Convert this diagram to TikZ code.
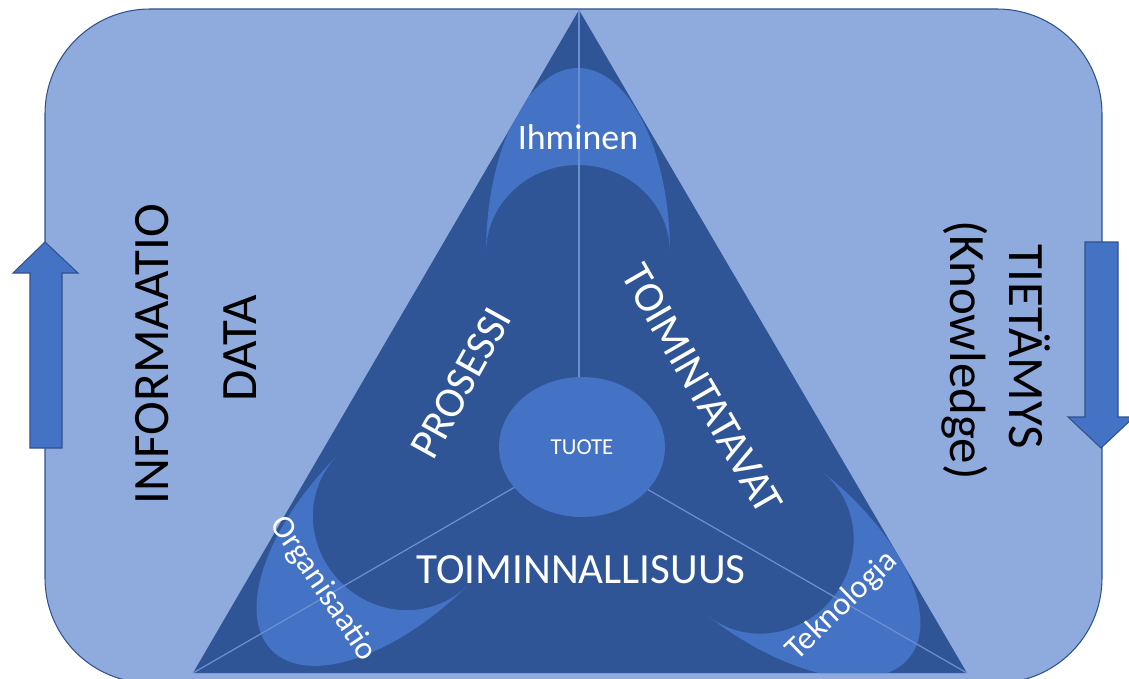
\documentclass[tikz,border=0pt]{standalone}
\usepackage{fontspec}
\setmainfont{Carlito}
\usepackage{tikz}
\usetikzlibrary{shapes.geometric}

\definecolor{paleblue}{HTML}{8FAADC}
\definecolor{deepblue}{HTML}{2F5597}
\definecolor{midblue}{HTML}{4472C4}
\definecolor{rimblue}{HTML}{2F528F}
\definecolor{spokeblue}{HTML}{6B8FD2}

% one crescent: tips midpoint, rotation
\newcommand{\halfmoon}[3]{%
  \begin{scope}[shift={(#1,#2)},rotate=#3]
    \fill[midblue] (-92,0) .. controls (-92,-102) and (-51,-185) .. (0,-185)
      .. controls (51,-185) and (92,-102) .. (92,0)
      .. controls (92,-49) and (51,-88) .. (0,-88)
      .. controls (-51,-88) and (-92,-49) .. (-92,0) -- cycle;
  \end{scope}}

\begin{document}
\begin{tikzpicture}[x=0.02cm,y=-0.02cm,
    outertext/.style={text=black,inner sep=0pt,font=\fontsize{29}{35}\selectfont},
    innertext/.style={text=white,inner sep=0pt,font=\fontsize{24.5}{29}\selectfont},
    smalltext/.style={text=white,inner sep=0pt,font=\fontsize{18.5}{22}\selectfont},
    bigarrow/.style={fill=midblue,draw=rimblue,line width=0.6pt},
    spoke/.style={draw=spokeblue,line width=0.7pt}]
  \clip (0,0) rectangle (1129,679);

  % background and arrows
  \draw[fill=paleblue,draw=rimblue,line width=0.6pt,rounded corners=2.1cm] (45,9) rectangle (1102,683);
  \draw[bigarrow] (30,448) -- (30,273) -- (13,273) -- (45,242) -- (78,273) -- (62,273) -- (62,448) -- cycle;
  \draw[bigarrow] (1085,242) -- (1085,417) -- (1068,417) -- (1101,448) -- (1134,417) -- (1118,417) -- (1118,242) -- cycle;

  % triangle
  \coordinate (top) at (579,10);
  \coordinate (left) at (193,673);
  \coordinate (right) at (967,673);
  \coordinate (mid) at (579,450);
  \fill[deepblue] (top) -- (left) -- (right) -- cycle;
  \begin{scope}
    \clip (top) -- (left) -- (right) -- cycle;
    \halfmoon{578}{253}{0}
    \halfmoon{403}{520}{134.8}
    \halfmoon{764}{543}{-128}
  \end{scope}
  \draw[spoke] (mid) -- (top);
  \draw[spoke] (mid) -- (left);
  \draw[spoke] (mid) -- (right);

  \node[ellipse,fill=midblue,minimum width=3.32cm,minimum height=2.8cm,inner sep=0pt,
        text=white,font=\fontsize{13}{16}\selectfont] (tuote) at (582,447) {TUOTE};

  % texts
  \node[outertext,rotate=90] (informaatio) at (152,354) {INFORMAATIO};
  \node[outertext,rotate=90] (data) at (240,348) {DATA};
  \node[outertext,rotate=-90] (tietamys) at (1030,347) {TIETÄMYS};
  \node[outertext,rotate=-90] (knowledge) at (965,350) {(Knowledge)};
  \node[innertext,rotate=61] (prosessi) at (461,383) {PROSESSI};
  \node[innertext,rotate=-60] (toimintatavat) at (702,389) {TOIMINTATAVAT};
  \node[innertext] (toiminnallisuus) at (581,570) {TOIMINNALLISUUS};
  \node[text=white,inner sep=0pt,font=\fontsize{20.4}{24}\selectfont] (ihminen) at (578,137) {Ihminen};
  \node[smalltext,rotate=-56] (organisaatio) at (323,589) {Organisaatio};
  \node[smalltext,rotate=44] (teknologia) at (842,606) {Teknologia};
\end{tikzpicture}
\end{document}
